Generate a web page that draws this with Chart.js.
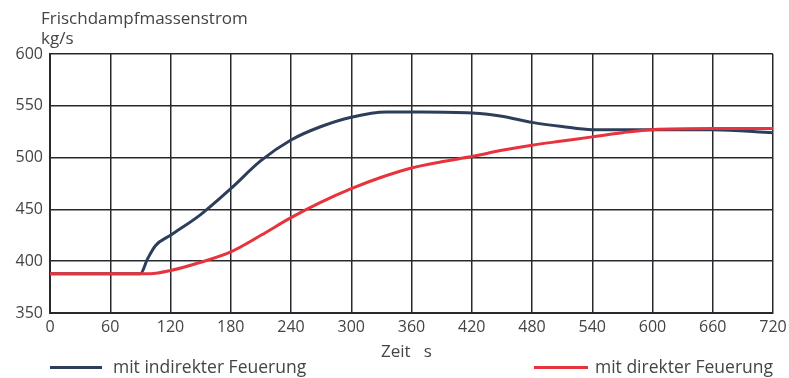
<!DOCTYPE html>
<html>
<head>
<meta charset="utf-8">
<script src="https://cdn.jsdelivr.net/npm/chart.js@4"></script>
<style>
  html, body { margin: 0; padding: 0; background: #fff; }
  #wrap { position: relative; width: 789px; height: 378px; font-family: "Open Sans", sans-serif; color: #444; }
  canvas { position: absolute; left: 0; top: 0; }
  .lbl { position: absolute; font-size: 17px; line-height: 20px; white-space: nowrap; }
  .key { position: absolute; height: 3px; }
</style>
</head>
<body>
<div id="wrap">
  <canvas id="chart" width="789" height="378"></canvas>
  <div class="lbl" style="left:41px; top:8px;">Frischdampfmassenstrom</div>
  <div class="lbl" style="left:41px; top:28px;">kg/s</div>
  <div class="lbl" style="left:381px; top:341px;">Zeit&nbsp;&nbsp;&nbsp;s</div>
  <div class="key" style="left:50px; top:366px; width:52px; background:#2c3e5a;"></div>
  <div class="lbl" style="left:113px; top:356px; font-size:17.5px;">mit indirekter Feuerung</div>
  <div class="key" style="left:534px; top:366px; width:54px; background:#e8323c;"></div>
  <div class="lbl" style="left:595px; top:356px; font-size:17.5px;">mit direkter Feuerung</div>
</div>
<script>
// data
const xTicks = [0, 60, 120, 180, 240, 300, 360, 420, 480, 540, 600, 660, 720];
const yTicks = [350, 400, 450, 500, 550, 600];

const indirectTime = [0, 90, 97, 105, 120, 150, 180, 210, 240, 270, 300, 335, 370, 420, 450, 480, 510, 540, 570, 600, 660, 720];
const indirectFlow = [388, 388, 402, 415, 425, 445, 470, 497, 517, 530, 539, 544, 544, 543, 540, 534, 530, 527, 527, 527, 527, 524];

const directTime = [0, 100, 120, 150, 180, 210, 240, 270, 300, 330, 360, 390, 420, 450, 480, 510, 540, 570, 600, 660, 720];
const directFlow = [388, 388, 391, 399, 409, 425, 442, 457, 470, 481, 490, 496, 501, 507, 512, 516, 520, 524, 527, 528, 528];

function toPoints(times, values) {
    return times.map((t, i) => ({ x: t, y: values[i] }));
}

const ctxt = document.getElementById('chart').getContext('2d');
const gridColor = '#262a2e';
const tickFont = { family: 'Open Sans', size: 16 };

new Chart(ctxt, {
    type: 'line',
    data: {
        datasets: [{
            data: toPoints(directTime, directFlow),
            borderColor: '#e8323c',
            borderWidth: 3,
            pointRadius: 0,
            cubicInterpolationMode: 'monotone',
            order: 0
        }, {
            data: toPoints(indirectTime, indirectFlow),
            borderColor: '#2c3e5a',
            borderWidth: 3,
            pointRadius: 0,
            cubicInterpolationMode: 'monotone',
            order: 1
        }]
    },
    options: {
        responsive: false,
        animation: false,
        layout: { padding: { top: 54, right: 16, left: 0, bottom: 0 } },
        plugins: { legend: { display: false }, tooltip: { enabled: false } },
        scales: {
            x: {
                type: 'linear',
                min: 0,
                max: 720,
                afterBuildTicks: (axis) => { axis.ticks = xTicks.map(v => ({ value: v })); },
                afterFit: (axis) => {
                    axis.height = 65;
                    axis.paddingLeft = 0;
                    axis.paddingRight = 0;
                },
                grid: { color: gridColor, lineWidth: 1.5, drawTicks: false },
                border: { color: gridColor, width: 2 },
                ticks: { color: '#444', font: tickFont, padding: 5, maxRotation: 0 }
            },
            y: {
                min: 350,
                max: 600,
                afterBuildTicks: (axis) => { axis.ticks = yTicks.map(v => ({ value: v })); },
                afterFit: (axis) => {
                    axis.width = 50;
                    axis.paddingTop = 0;
                    axis.paddingBottom = 0;
                },
                grid: { color: gridColor, lineWidth: 1.5, drawTicks: false },
                border: { color: gridColor, width: 2 },
                ticks: { color: '#444', font: tickFont, padding: 7 }
            }
        }
    }
});
</script>
</body>
</html>
